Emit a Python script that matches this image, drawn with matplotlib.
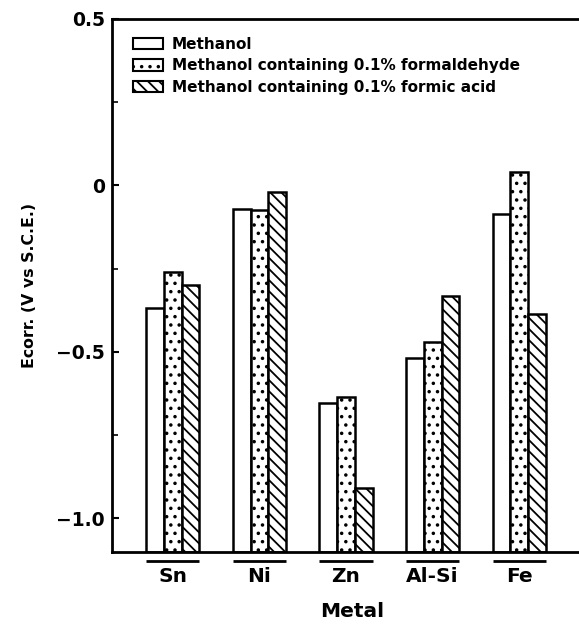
import numpy as np
import matplotlib
matplotlib.use("Agg")
import matplotlib.pyplot as plt
from matplotlib.patches import Patch
from matplotlib.ticker import MultipleLocator

plt.rcParams['font.family'] = ['DejaVu Sans']
plt.rcParams['font.weight'] = 'bold'
plt.rcParams['hatch.linewidth'] = 1.3

# corrosion potentials (V vs S.C.E.)
metals = ['Sn', 'Ni', 'Zn', 'Al-Si', 'Fe']
methanol = [-0.37, -0.07, -0.655, -0.52, -0.087]
formaldehyde = [-0.26, -0.075, -0.635, -0.47, 0.04]
formic_acid = [-0.30, -0.02, -0.91, -0.333, -0.387]
series_names = ['Methanol',
                'Methanol containing 0.1% formaldehyde',
                'Methanol containing 0.1% formic acid']

fig = plt.figure(figsize=(5.79, 6.24), dpi=100)
ax = fig.add_axes([0.193, 0.116, 0.807, 0.854])

x = np.arange(len(metals))
w = 0.205
base = -1.1
hatches = ['', '..', '\\\\\\']
for i, (vals, h) in enumerate(zip([methanol, formaldehyde, formic_acid], hatches)):
    v = np.array(vals)
    ax.bar(x + (i - 1) * w, v - base, w, bottom=base, color='white',
           edgecolor='black', linewidth=1.8, hatch=h, zorder=2)

ax.set_xlim(-0.705, 4.69)
ax.set_ylim(-1.1, 0.5)
ax.set_yticks([0.5, 0, -0.5, -1.0])
ax.set_yticklabels(['0.5', '0', '\u22120.5', '\u22121.0'])
ax.yaxis.set_minor_locator(MultipleLocator(0.25))
ax.tick_params(axis='y', which='major', direction='in', length=5, width=1.5,
               labelsize=13.5, pad=5)
ax.tick_params(axis='y', which='minor', direction='in', length=4, width=1.2)
ax.tick_params(axis='x', bottom=False, labelbottom=False)
ax.spines['right'].set_visible(False)
for s in ['left', 'top', 'bottom']:
    ax.spines[s].set_linewidth(2)

# group underlines and metal names below the axis
tr = ax.get_xaxis_transform()
for xi, name in zip(x, metals):
    ax.plot([xi - 1.5 * w, xi + 1.5 * w], [-0.017, -0.017], color='black',
            lw=2, transform=tr, clip_on=False, solid_capstyle='butt')
    ax.text(xi, -0.047, name, transform=tr, ha='center', va='center',
            fontsize=14.5, fontweight='bold')

ax.text(2.07, -0.113, 'Metal', transform=tr,
        ha='center', va='center', fontsize=14.5, fontweight='bold')
ax.set_ylabel('Ecorr. (V vs S.C.E.)', fontsize=11.3, fontweight='bold',
              labelpad=14)

handles = [Patch(facecolor='white', edgecolor='black', linewidth=1.5, hatch=h)
           for h in hatches]
ax.legend(handles, series_names, loc='upper left', bbox_to_anchor=(0.045, 0.966),
          frameon=False, handlelength=1.95, handleheight=0.8,
          handletextpad=0.6, labelspacing=0.42, borderpad=0, borderaxespad=0,
          prop={'weight': 'bold', 'size': 11})

fig.savefig('out.png', dpi=100)
